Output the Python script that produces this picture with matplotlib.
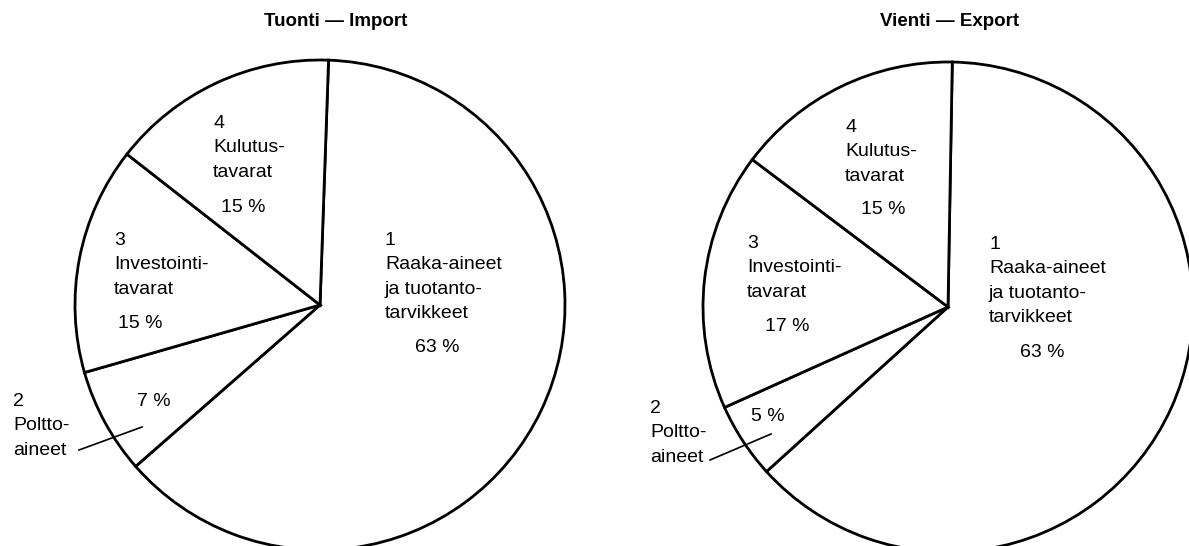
import matplotlib
matplotlib.use("Agg")
import matplotlib.pyplot as plt

plt.rcParams['font.family'] = ['Liberation Sans', 'DejaVu Sans']

# data
numbers = ['1', '2', '3', '4']
names = [["Raaka-aineet", "ja tuotanto-", "tarvikkeet"],
		 ["Poltto-", "aineet"],
		 ["Investointi-", "tavarat"],
		 ["Kulutus-", "tavarat"]]
import_share = [63, 7, 15, 15]
export_share = [63, 5, 17, 15]
titles = ["Tuonti \u2014 Import", "Vienti \u2014 Export"]

W, H = 1189, 546

# layout in pixels (x from left, y from top)
centers = [(320, 305), (948, 307)]
R = 245
starts = [88, 89]
name_pos = [[(385, 240), (13, 401), (114, 240), (213, 123)],
			[(989, 244), (650, 408), (747, 243), (845, 127)]]
pct_pos = [[(437, 347), (154, 401), (140, 323), (243, 207)],
		   [(1042, 352), (768, 416), (787, 326), (883, 209)]]
leaders = [[(79, 450), (142, 427)], [(710, 460), (771, 434)]]
title_x = [336, 950]
line_gap = 24.5

fig = plt.figure(figsize=(W/100, H/100), dpi=100)

for k, shares in enumerate([import_share, export_share]):
		cx, cy = centers[k]
		m = 1.03
		ax = fig.add_axes([(cx - R*m)/W, 1 - (cy + R*m)/H, 2*R*m/W, 2*R*m/H])
		ax.pie(shares, startangle=starts[k], counterclock=False,
			   colors=['white']*4,
			   wedgeprops=dict(edgecolor='black', linewidth=2.0))
		ax.set_xlim(-m, m)
		ax.set_ylim(-m, m)
		ax.set_aspect('equal')
		ax.axis('off')

		def d(p):
				return ((p[0] - cx)/R, (cy - p[1])/R)

		for i in range(4):
				x0, y0 = name_pos[k][i]
				lines = [numbers[i]] + names[i]
				for j, s in enumerate(lines):
						ax.text(*d((x0, y0 + j*line_gap)), s, fontsize=14,
								ha='left', va='center', clip_on=False)
				ax.text(*d(pct_pos[k][i]), "%d %%" % shares[i], fontsize=14,
						ha='center', va='center', clip_on=False)

		(a, b) = leaders[k]
		pa, pb = d(a), d(b)
		ax.plot([pa[0], pb[0]], [pa[1], pb[1]], color='black', lw=1.2, clip_on=False)

		fig.text(title_x[k]/W, 1 - 22/H, titles[k], fontsize=13.5,
				 fontweight='bold', ha='center', va='center')

fig.savefig("out.png", dpi=100)
